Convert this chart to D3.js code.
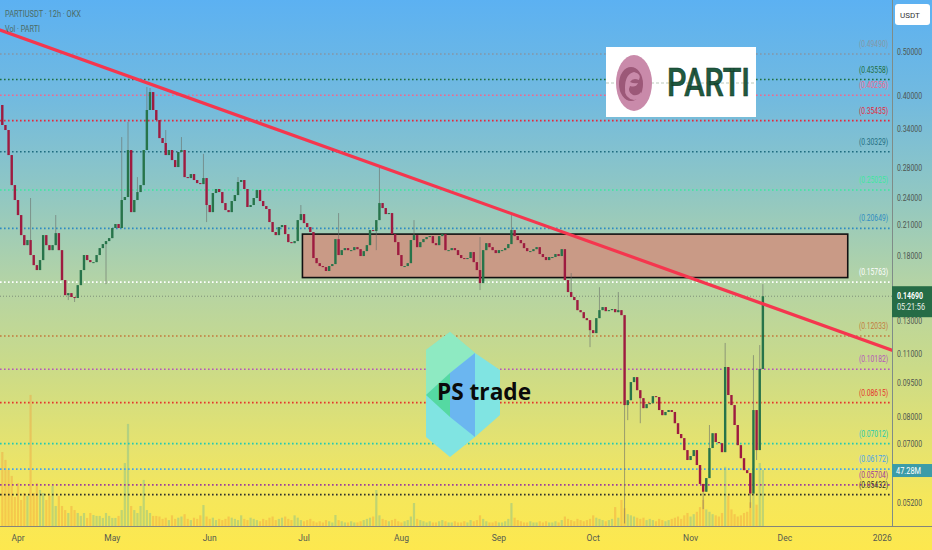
<!DOCTYPE html>
<html><head><meta charset="utf-8">
<script src="https://cdn.jsdelivr.net/npm/d3@7"></script>
<style>html,body{margin:0;padding:0;overflow:hidden;background:#fde94e}</style>
</head><body><svg id="c" width="932" height="550"></svg>
<script>
// ---------------- DATA ----------------
const firstDay = "2025-03-27";
const firstOpen = 0.3833;
const closes = [
0.3467,0.3381,0.2982,0.2565,0.2380,0.2207,0.1996,0.1898,0.1947,0.1806,
0.1717,0.1675,0.1761,0.1996,0.1898,0.1851,0.1898,0.2016,0.1851,0.1593,
0.1477,0.1492,0.1463,0.1456,0.1553,0.1675,0.1806,0.1761,0.1743,0.1743,
0.1806,0.1870,0.1908,0.1937,0.1966,0.2068,0.2110,0.2068,0.2380,0.2416,
0.3058,0.2240,0.2380,0.2477,0.2565,0.3058,0.3738,0.4090,0.3738,0.3555,
0.3247,0.3168,0.2982,0.3058,0.2908,0.2808,0.3028,0.3058,0.2670,0.2657,
0.2711,0.2631,0.2591,0.2578,0.2657,0.2321,0.2240,0.2465,0.2515,0.2477,
0.2344,0.2263,0.2240,0.2368,0.2440,0.2605,0.2631,0.2515,0.2298,0.2321,
0.2404,0.2502,0.2368,0.2309,0.2275,0.2131,0.2027,0.1996,0.2078,0.2099,
0.2006,0.1927,0.1917,0.1937,0.2152,0.2218,0.2120,0.2078,0.2027,0.1779,
0.1734,0.1709,0.1700,0.1667,0.1709,0.1726,0.1956,0.1806,0.1851,0.1870,
0.1851,0.1851,0.1879,0.1860,0.1797,0.1842,0.1898,0.2047,0.2037,0.2152,
0.2344,0.2286,0.2218,0.2229,0.2006,0.1927,0.1806,0.1709,0.1709,0.1734,
0.1947,0.1996,0.1879,0.1927,0.1956,0.1976,0.1986,0.1917,0.1898,0.1986,
0.2006,0.1851,0.1851,0.1870,0.1851,0.1806,0.1779,0.1770,0.1779,0.1833,
0.1743,0.1675,0.1569,0.1851,0.1917,0.1879,0.1851,0.1824,0.1851,0.1851,
0.1870,0.1908,0.2047,0.1986,0.1947,0.1917,0.1870,0.1842,0.1842,0.1860,
0.1879,0.1815,0.1788,0.1761,0.1788,0.1788,0.1815,0.1797,0.1860,0.1593,
0.1500,0.1463,0.1441,0.1370,0.1356,0.1316,0.1303,0.1239,0.1221,0.1316,
0.1370,0.1391,0.1363,0.1370,0.1377,0.1356,0.1370,0.1336,0.0851,0.0872,
0.0955,0.0979,0.0917,0.0881,0.0838,0.0855,0.0859,0.0890,0.0886,0.0830,
0.0809,0.0822,0.0830,0.0822,0.0777,0.0736,0.0721,0.0679,0.0646,0.0659,
0.0679,0.0630,0.0573,0.0551,0.0590,0.0686,0.0739,0.0707,0.0703,0.0672,
0.1030,0.0895,0.0851,0.0770,0.0696,0.0652,0.0614,0.0605,0.0546,0.0830,
0.0679,0.1020,0.1469
];
const volumes = [
62.5,55.8,47.3,42.3,24.5,36.3,22,27.9,25.4,110.7,
27.9,36.3,30.4,27.9,22,25.4,33.8,16.9,25.4,16.9,
13.5,11,16.9,13.5,11,8.5,11,6.8,11,9.3,
8.5,8.5,6.8,11,8.5,6.8,6.8,8.5,13.5,53.2,
86.2,16.9,13.5,11,16.9,38.9,13.5,11,8.5,8.5,
8,6,7,5,9,6,7,8,10,6,
5,7,6,9,17.7,8,6,7,5,6,
5,6,8,7,6,5,9,6,5,7,
6,5,4,6,5,7,8,5,6,7,
8,6,5,9,7,5,4,5,6,4,
3,4,3,5,4,3,9.3,5,4,3,
3,4,3,3,4,5,6,7,8,30.4,
9,6,5,4,5,6,4,3,4,5,
8,19.4,6,5,4,3,4,3,3,4,
5,4,3,3,4,3,3,4,3,5,
4,5,9,6,4,3,3,4,3,3,
4,6,19.4,7,5,4,3,3,4,3,
3,4,3,4,3,3,4,3,5,8,
6,5,4,6,5,4,5,6,9,7,
6,5,4,5,6,16,7,22,15,10,
9,8,7,6,7,5,6,5,4,6,
5,4,5,6,7,8,6,9,11,8,
10,12,16,22,14,12,10,9,8,11,
50,25.4,14,10,8,9,11,12,20,27.9,
18,53.2,47.28
];
// [candle index, price]
const wickHigh = [[9,0.2404],[17,0.2207],[38,0.3264],[40,0.3521],[43,0.2670],[46,0.4195],[47,0.4174],
  [52,0.3381],[57,0.3264],[64,0.3000],[75,0.2670],[95,0.2321],[107,0.2229],[120,0.2808],[131,0.2152],
  [152,0.1976],[162,0.2207],[181,0.1650],[190,0.1537],[196,0.1500],[225,0.0770],[230,0.1162],
  [239,0.1093],[241,0.1150],[242,0.1561]];
const wickLow = [[21,0.1441],[23,0.1427],[33,0.1561],[65,0.2131],[119,0.1851],[152,0.1515],[187,0.1138],
  [198,0.0470],[199,0.0789],[203,0.0777],[223,0.0505],[238,0.0508],[240,0.0646]];

const fibLevels = [0.49490,0.43558,0.40256,0.35435,0.30329,0.25025,0.20649,0.15763,0.12033,0.10182,0.08615,0.07012,0.06172,0.05704,0.05432];
const fibColors = ["#8497a6","#1f6e3e","#f2668e","#e3283c","#1f6d80","#3fe6a0","#2f8bc2","#ffffff","#c27a3e","#b456bc","#e4352c","#22c9b2","#45a2ee","#9c3c9e","#2e2e2e"];
const priceTicks = [0.5,0.4,0.34,0.28,0.24,0.21,0.18,0.13,0.11,0.095,0.08,0.07,0.052];
const monthTicks = ["2025-04-01","2025-05-01","2025-06-01","2025-07-01","2025-08-01","2025-09-01","2025-10-01","2025-11-01","2025-12-01","2026-01-01"];
const monthLabels = ["Apr","May","Jun","Jul","Aug","Sep","Oct","Nov","Dec","2026"];
const trendline = [["2025-03-26T06:30:00Z",0.558],["2026-01-04T02:00:00Z",0.1121]];
const zoneBox = [["2025-06-30T12:00:00Z",0.2006],["2025-12-21T00:00:00Z",0.1613]];
const extraLevels = [0.428];
const lastPrice = 0.14690, countdown = "05:21:56", lastVolume = "47.28M";
const title = "PARTIUSDT · 12h · OKX", volTitle = "Vol · PARTI";

// ---------------- CHART ----------------
const W = 932, H = 550, PW = 892, PH = 526;
const svg = d3.select("#c");
const defs = svg.append("defs");
const bgStops = [[0,"#5cb1f2"],[0.18,"#72badf"],[0.35,"#90c7c3"],[0.51,"#b3d3a6"],[0.67,"#cbdb88"],[0.82,"#e7e36d"],[0.91,"#f6e75a"],[1,"#fde84e"]];
const g0 = defs.append("linearGradient").attr("id","bg").attr("gradientUnits","userSpaceOnUse")
  .attr("x1",0).attr("y1",0).attr("x2",0).attr("y2",H);
bgStops.forEach(s=>g0.append("stop").attr("offset",s[0]).attr("stop-color",s[1]));
defs.append("clipPath").attr("id","plot").append("rect").attr("x",0).attr("y",0).attr("width",PW).attr("height",PH);

svg.append("rect").attr("width",W).attr("height",H).attr("fill","url(#bg)");

const x = d3.scaleUtc().domain([new Date("2025-03-26T06:30:00Z"), new Date("2026-01-04T02:00:00Z")]).range([0,PW]);
const y = d3.scaleLog().domain([0.0464,0.649]).range([PH,0]);
const yv = d3.scaleLinear().domain([0,100]).range([PH,PH-118.4]);

const parse = d3.utcParse("%Y-%m-%d");
const t0 = parse(firstDay);
const candles = closes.map((c,i)=>{
  const o = i===0 ? firstOpen : closes[i-1];
  return {t:d3.utcDay.offset(t0,i), o, c, h:Math.max(o,c), l:Math.min(o,c), v:volumes[i]};
});
wickHigh.forEach(([i,p])=>{candles[i].h=Math.max(candles[i].h,p);});
wickLow.forEach(([i,p])=>{candles[i].l=Math.min(candles[i].l,p);});

const plot = svg.append("g").attr("clip-path","url(#plot)");

// volume
plot.append("g").selectAll("rect").data(candles).join("rect")
  .attr("x",d=>x(d.t)-1.1).attr("width",2.2)
  .attr("y",d=>yv(d.v)).attr("height",d=>PH-yv(d.v))
  .attr("fill",d=>d.c>=d.o ? "rgba(110,185,150,0.4)" : "rgba(240,155,60,0.4)");

// fib lines
plot.append("g").selectAll("line").data(fibLevels).join("line")
  .attr("x1",0).attr("x2",PW).attr("y1",d=>y(d)).attr("y2",d=>y(d))
  .attr("stroke",(d,i)=>fibColors[i]).attr("stroke-width",1.6).attr("stroke-dasharray","1.6,2.4");

// current price line
plot.append("line").attr("x1",0).attr("x2",PW).attr("y1",y(lastPrice)).attr("y2",y(lastPrice))
  .attr("stroke","rgba(80,90,90,0.55)").attr("stroke-width",1).attr("stroke-dasharray","1,2");

// zone box
plot.append("rect")
  .attr("x",x(new Date(zoneBox[0][0]))).attr("y",y(zoneBox[0][1]))
  .attr("width",x(new Date(zoneBox[1][0]))-x(new Date(zoneBox[0][0])))
  .attr("height",y(zoneBox[1][1])-y(zoneBox[0][1]))
  .attr("fill","#c99a86").attr("stroke","#111").attr("stroke-width",1.6);

// candles
const cg = plot.append("g");
cg.selectAll("line").data(candles).join("line")
  .attr("x1",d=>x(d.t)).attr("x2",d=>x(d.t)).attr("y1",d=>y(d.h)).attr("y2",d=>y(d.l))
  .attr("stroke","rgba(105,110,105,0.6)").attr("stroke-width",1);
cg.selectAll("rect").data(candles).join("rect")
  .attr("x",d=>x(d.t)-1.2).attr("width",2.4)
  .attr("y",d=>y(Math.max(d.o,d.c)))
  .attr("height",d=>Math.max(1,Math.abs(y(d.o)-y(d.c))))
  .attr("fill",d=>d.c>=d.o ? "#27744a" : "#9e1b40");

// trendline
plot.append("line")
  .attr("x1",x(new Date(trendline[0][0]))).attr("y1",y(trendline[0][1]))
  .attr("x2",x(new Date(trendline[1][0]))).attr("y2",y(trendline[1][1]))
  .attr("stroke","#f5364e").attr("stroke-width",3.2).attr("stroke-linecap","round");

// fib labels
svg.append("g").selectAll("text").data(fibLevels).join("text")
  .attr("x",888).attr("y",d=>y(d)-7).attr("text-anchor","end")
  .attr("font-family","Roboto, sans-serif").attr("font-size",8.5)
  .attr("fill",(d,i)=>fibColors[i])
  .attr("textLength",29).attr("lengthAdjust","spacingAndGlyphs")
  .text(d=>"("+d.toFixed(5)+")");

// PARTI logo
const pl = svg.append("g");
pl.append("rect").attr("x",606).attr("y",47).attr("width",150).attr("height",70).attr("fill","#ffffff");
pl.append("line").attr("x1",606).attr("x2",756).attr("y1",y(extraLevels[0])).attr("y2",y(extraLevels[0]))
  .attr("stroke","rgba(120,150,120,0.5)").attr("stroke-width",1).attr("stroke-dasharray","3,2");
pl.append("ellipse").attr("cx",634).attr("cy",83).attr("rx",18).attr("ry",28).attr("fill","#c98aaa");
pl.append("ellipse").attr("cx",631).attr("cy",84).attr("rx",12).attr("ry",17).attr("fill","#9c5878");
pl.append("path").attr("d","M634,72 q8,2 5,8 q-6,-3 -9,2 q4,2 8,1 q-2,5 -8,3 q-3,6 3,9 q5,1 8,-3 q1,7 -7,8 q-10,-2 -9,-12 q0,-14 9,-16z")
  .attr("fill","#c98aaa");
pl.append("text").attr("x",667).attr("y",96).attr("font-family","Roboto, sans-serif").attr("font-weight",500)
  .attr("font-size",39).attr("fill","#1f5a40").attr("stroke","#0f3323").attr("stroke-width",0.6)
  .attr("textLength",83).attr("lengthAdjust","spacingAndGlyphs").text("PARTI");

// PS trade logo
const ps = svg.append("g");
ps.append("polygon").attr("points","450,332 475,353 500,370 500,415 475,437 450,457 426,437 426,350").attr("fill","#80e4e2");
ps.append("polygon").attr("points","450,332 475,353 450,373 426,395 426,350").attr("fill","#8eeac2");
ps.append("polygon").attr("points","426,395 450,373 450,417").attr("fill","#55d9a2");
ps.append("polygon").attr("points","450,373 475,353 475,437 450,417").attr("fill","#6bb6f0");
ps.append("text").attr("x",437).attr("y",400).attr("font-family","'Open Sans', sans-serif").attr("font-weight",700)
  .attr("font-size",24).attr("fill","#0a0a0a").attr("textLength",94).attr("lengthAdjust","spacingAndGlyphs").text("PS trade");

// header
svg.append("text").attr("x",5).attr("y",17).attr("font-family","Roboto, sans-serif").attr("font-size",9)
  .attr("fill","#4c6b66").attr("textLength",76).attr("lengthAdjust","spacingAndGlyphs").text(title);
svg.append("text").attr("x",5).attr("y",32).attr("font-family","Roboto, sans-serif").attr("font-size",9)
  .attr("fill","#4c6b66").attr("textLength",35).attr("lengthAdjust","spacingAndGlyphs").text(volTitle);

// axes borders
svg.append("line").attr("x1",PW+0.5).attr("x2",PW+0.5).attr("y1",0).attr("y2",PH).attr("stroke","#7f8c88").attr("stroke-width",1);
svg.append("line").attr("x1",0).attr("x2",W).attr("y1",PH+0.5).attr("y2",PH+0.5).attr("stroke","#85857a").attr("stroke-width",1);

// right axis labels
svg.append("g").selectAll("text").data(priceTicks).join("text")
  .attr("x",897).attr("y",d=>y(d)+3).attr("font-family","Roboto, sans-serif").attr("font-size",8.5)
  .attr("fill","#4e5550").attr("textLength",25).attr("lengthAdjust","spacingAndGlyphs")
  .text(d=>d.toFixed(5));

// bottom axis labels
svg.append("g").selectAll("text").data(monthTicks).join("text")
  .attr("x",d=>x(parse(d))).attr("y",541).attr("text-anchor","middle")
  .attr("font-family","Roboto, sans-serif").attr("font-size",8.5).attr("fill","#555a50")
  .text((d,i)=>monthLabels[i]);

// USDT box
svg.append("rect").attr("x",895).attr("y",4).attr("width",35).attr("height",21).attr("rx",3).attr("fill","#ffffff");
svg.append("text").attr("x",900).attr("y",18).attr("font-family","Roboto, sans-serif").attr("font-size",8)
  .attr("fill","#333").text("USDT");

// last price label
const py = y(lastPrice);
svg.append("rect").attr("x",892).attr("y",py-10).attr("width",40).attr("height",31).attr("fill","#266c46");
svg.append("text").attr("x",897).attr("y",py+3).attr("font-family","Roboto, sans-serif").attr("font-size",8.5)
  .attr("font-weight",700).attr("fill","#fff").attr("textLength",26).attr("lengthAdjust","spacingAndGlyphs").text(lastPrice.toFixed(5));
svg.append("text").attr("x",897).attr("y",py+14).attr("font-family","Roboto, sans-serif").attr("font-size",8.5)
  .attr("fill","#e8f2ea").attr("textLength",28).attr("lengthAdjust","spacingAndGlyphs").text(countdown);

// volume label
const vy = yv(volumes[volumes.length-1]);
svg.append("rect").attr("x",892).attr("y",vy-6).attr("width",40).attr("height",13).attr("fill","#3c9ca8");
svg.append("text").attr("x",896).attr("y",vy+3.5).attr("font-family","Roboto, sans-serif").attr("font-size",8.5)
  .attr("fill","#fff").attr("textLength",25).attr("lengthAdjust","spacingAndGlyphs").text(lastVolume);
</script></body></html>
